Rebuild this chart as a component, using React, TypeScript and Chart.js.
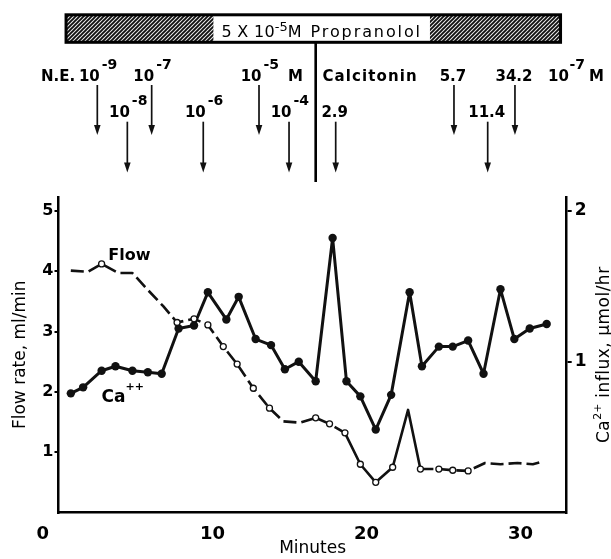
import React, { useEffect, useRef } from 'react';
import { Chart, registerables } from 'chart.js';

Chart.register(...registerables);

// ---------------- data ----------------
const flowMinutes = [0.8, 1.9, 2.8, 3.9, 4.8, 5.8, 6.8, 7.7, 8.8, 9.7, 10.7, 11.6, 12.65, 13.7, 14.6, 15.7, 16.7, 17.6, 18.6, 19.6, 20.6, 21.7, 22.7, 23.5, 24.7, 25.6, 26.6, 27.7, 28.7, 29.8, 30.8, 31.4];
const flowRates = [4.01, 3.99, 4.12, 3.97, 3.97, 3.69, 3.42, 3.15, 3.21, 3.11, 2.75, 2.46, 2.06, 1.73, 1.51, 1.49, 1.57, 1.47, 1.32, 0.8, 0.5, 0.75, 1.7, 0.72, 0.72, 0.7, 0.69, 0.82, 0.8, 0.82, 0.8, 0.84];

const caMinutes = [0.8, 1.6, 2.8, 3.7, 4.8, 5.8, 6.7, 7.8, 8.8, 9.7, 10.9, 11.7, 12.8, 13.8, 14.7, 15.6, 16.7, 17.8, 18.7, 19.6, 20.6, 21.6, 22.8, 23.6, 24.7, 25.6, 26.6, 27.6, 28.7, 29.6, 30.6, 31.7];
const caInflux = [0.79, 0.83, 0.94, 0.97, 0.94, 0.93, 0.92, 1.22, 1.24, 1.46, 1.28, 1.43, 1.15, 1.11, 0.95, 1.0, 0.87, 1.82, 0.87, 0.77, 0.55, 0.78, 1.46, 0.97, 1.1, 1.1, 1.14, 0.92, 1.48, 1.15, 1.22, 1.25];

const xTickValues = [0, 10, 20, 30];
const flowTickValues = [1, 2, 3, 4, 5];
const caTickValues = [1, 2];

const neExponents = ['-9', '-8', '-7', '-6', '-5', '-4'];
const neMinutes = [2.52, 4.47, 6.05, 9.4, 13.02, 14.97];
const neRows = [1, 2, 1, 2, 1, 2];

const calcitoninDoses = ['2.9', '5.7', '11.4', '34.2'];
const calcitoninMinutes = [18.0, 25.68, 27.87, 29.64];
const calcitoninRows = [2, 1, 2, 1];

const propranololStart = 0.49;
const propranololEnd = 32.6;
const calcitoninStart = 16.7;

// ---------------- helpers ----------------
const FAM = '"DejaVu Sans", "Liberation Sans", sans-serif';
const hiddenFlowMarkers = new Set([0, 1, 3, 4, 5, 6, 14, 15, 22, 27, 28, 29, 30, 31]);

type Run = { text: string; font: string; dy?: number; spacing?: number };

function runsWidth(ctx: CanvasRenderingContext2D, runs: Run[]) {
  let w = 0;
  for (const r of runs) {
    ctx.font = r.font;
    (ctx as any).letterSpacing = (r.spacing || 0) + 'px';
    w += ctx.measureText(r.text).width;
  }
  (ctx as any).letterSpacing = '0px';
  return w;
}

function drawRuns(ctx: CanvasRenderingContext2D, runs: Run[], x: number, y: number, align: 'left' | 'center' | 'right' = 'left') {
  const w = runsWidth(ctx, runs);
  let cx = align === 'left' ? x : align === 'center' ? x - w / 2 : x - w;
  ctx.textAlign = 'left';
  ctx.textBaseline = 'alphabetic';
  for (const r of runs) {
    ctx.font = r.font;
    (ctx as any).letterSpacing = (r.spacing || 0) + 'px';
    ctx.fillText(r.text, cx, y - (r.dy || 0));
    cx += ctx.measureText(r.text).width;
  }
  (ctx as any).letterSpacing = '0px';
  return w;
}

function arrow(ctx: CanvasRenderingContext2D, x: number, y0: number, y1: number) {
  ctx.beginPath();
  ctx.moveTo(x, y0);
  ctx.lineTo(x, y1 - 6);
  ctx.lineWidth = 1.7;
  ctx.strokeStyle = '#111';
  ctx.stroke();
  ctx.beginPath();
  ctx.moveTo(x - 3.3, y1 - 10);
  ctx.lineTo(x + 3.3, y1 - 10);
  ctx.lineTo(x, y1);
  ctx.closePath();
  ctx.fillStyle = '#111';
  ctx.fill();
}

function hatch(ctx: CanvasRenderingContext2D) {
  const c = document.createElement('canvas');
  c.width = 4;
  c.height = 4;
  const p = c.getContext('2d')!;
  p.fillStyle = '#eee';
  p.fillRect(0, 0, 4, 4);
  p.strokeStyle = '#111';
  p.lineWidth = 1.9;
  p.beginPath();
  p.moveTo(0, 4); p.lineTo(4, 0);
  p.moveTo(-1, 1); p.lineTo(1, -1);
  p.moveTo(3, 5); p.lineTo(5, 3);
  p.stroke();
  return ctx.createPattern(c, 'repeat')!;
}

const annotationPlugin = {
  id: 'figureAnnotations',
  afterDraw(chart: any) {
    const ctx: CanvasRenderingContext2D = chart.ctx;
    const xs = chart.scales.x;
    const yl = chart.scales.y;
    const yr = chart.scales.y1;
    const X = (m: number) => xs.getPixelForValue(m);
    ctx.save();

    // ---- propranolol bar ----
    const bx0 = X(propranololStart);
    const bx1 = X(propranololEnd);
    const by0 = 14.8;
    const by1 = 42.3;
    ctx.fillStyle = hatch(ctx);
    ctx.fillRect(bx0, by0, bx1 - bx0, by1 - by0);

    const propRuns: Run[] = [
      { text: '5 X 10', font: `16px ${FAM}`, spacing: 0.3 },
      { text: '-5', font: `13px ${FAM}`, dy: 6 },
      { text: 'M Propranolol', font: `16px ${FAM}`, spacing: 1.9 },
    ];
    const pw = runsWidth(ctx, propRuns);
    const pc = X(calcitoninStart) + 6;
    ctx.fillStyle = '#fff';
    ctx.fillRect(pc - pw / 2 - 8, by0 + 1, pw + 16, by1 - by0 - 2);
    ctx.fillStyle = '#000';
    drawRuns(ctx, propRuns, pc, 36.5, 'center');

    ctx.strokeStyle = '#000';
    ctx.lineWidth = 3;
    ctx.strokeRect(bx0, by0, bx1 - bx0, by1 - by0);

    // vertical divider
    ctx.beginPath();
    ctx.moveTo(X(calcitoninStart), by1);
    ctx.lineTo(X(calcitoninStart), 182);
    ctx.lineWidth = 2.6;
    ctx.stroke();

    // ---- arrows & labels ----
    const rowBase = { 1: 81, 2: 116.7 } as Record<number, number>;
    const rowArrow = { 1: [85, 135], 2: [121.7, 172.5] } as Record<number, number[]>;
    const bold = (s: number) => `bold ${s}px ${FAM}`;
    ctx.fillStyle = '#000';

    drawRuns(ctx, [{ text: 'N.E.', font: bold(15) }], 41, 81);

    neMinutes.forEach((m, i) => {
      const ax = X(m);
      const row = neRows[i];
      const [a0, a1] = rowArrow[row];
      arrow(ctx, ax, a0, a1);
      ctx.fillStyle = '#000';
      drawRuns(ctx, [{ text: '10', font: bold(15) }], ax + 2.5, rowBase[row], 'right');
      drawRuns(ctx, [{ text: neExponents[i], font: bold(14) }], ax + 4.5, rowBase[row] - 12, 'left');
    });
    drawRuns(ctx, [{ text: 'M', font: bold(15) }], 288, 81);
    drawRuns(ctx, [{ text: 'Calcitonin', font: bold(15), spacing: 1.1 }], 322.5, 81);

    calcitoninMinutes.forEach((m, i) => {
      const ax = X(m);
      const row = calcitoninRows[i];
      const [a0, a1] = rowArrow[row];
      arrow(ctx, ax, a0, a1);
      ctx.fillStyle = '#000';
      drawRuns(ctx, [{ text: calcitoninDoses[i], font: bold(15) }], ax - 1, rowBase[row], 'center');
    });
    drawRuns(ctx, [{ text: '10', font: bold(15) }], 548, 81);
    drawRuns(ctx, [{ text: '-7', font: bold(14) }], 569.5, 81 - 12);
    drawRuns(ctx, [{ text: 'M', font: bold(15) }], 589, 81);

    // ---- series labels ----
    drawRuns(ctx, [{ text: 'Flow', font: bold(16) }], X(3.23), yl.getPixelForValue(4.19));
    drawRuns(
      ctx,
      [
        { text: 'Ca', font: bold(17) },
        { text: '++', font: bold(11), dy: 12 },
      ],
      X(2.8),
      yr.getPixelForValue(0.735)
    );

    // ---- right axis title (reads upward) ----
    ctx.translate(609, (yr.top + yr.bottom) / 2);
    ctx.rotate(-Math.PI / 2);
    ctx.fillStyle = '#000';
    drawRuns(
      ctx,
      [
        { text: 'Ca', font: `17px ${FAM}`, spacing: 0.5 },
        { text: '2+', font: `11px ${FAM}`, dy: 8 },
        { text: ' influx, μmol/hr', font: `17px ${FAM}`, spacing: 0.5 },
      ],
      0,
      0,
      'center'
    );
    ctx.restore();
  },
};

export default function App() {
  const ref = useRef<HTMLCanvasElement | null>(null);

  useEffect(() => {
    if (!ref.current) return;
    const tickFont = (s: number) => ({ family: FAM, size: s, weight: 'bold' as const });
    const chart = new Chart(ref.current, {
      type: 'line',
      data: {
        datasets: [
          {
            label: 'Flow',
            yAxisID: 'y',
            data: flowMinutes.map((m, i) => ({ x: m, y: flowRates[i] })),
            borderColor: '#111',
            borderWidth: 2.6,
            borderDash: [13, 5],
            borderJoinStyle: 'round',
            pointRadius: (c: any) => (hiddenFlowMarkers.has(c.dataIndex) ? 0 : 3),
            pointBackgroundColor: '#fff',
            pointBorderColor: '#111',
            pointBorderWidth: 1.3,
            tension: 0,
            segment: {
              borderDash: (c: any) => (c.p0DataIndex >= 18 && c.p0DataIndex <= 22 ? [] : undefined),
            },
          } as any,
          {
            label: 'Ca++',
            yAxisID: 'y1',
            data: caMinutes.map((m, i) => ({ x: m, y: caInflux[i] })),
            borderColor: '#111',
            borderWidth: 3,
            borderJoinStyle: 'round',
            pointRadius: 4.2,
            pointBackgroundColor: '#111',
            pointBorderWidth: 0,
            tension: 0,
          } as any,
        ],
      },
      options: {
        animation: false,
        responsive: false,
        devicePixelRatio: 1,
        layout: { padding: { top: 197, left: 0, right: 0, bottom: 0 } },
        plugins: { legend: { display: false }, tooltip: { enabled: false } },
        scales: {
          x: {
            type: 'linear',
            min: 0,
            max: 33,
            afterBuildTicks: (s: any) => {
              s.ticks = xTickValues.map((v) => ({ value: v }));
            },
            afterFit: (s: any) => {
              s.height = 46.5;
            },
            grid: { display: true, drawOnChartArea: false, drawTicks: false },
            border: { display: true, color: '#000', width: 2.5 },
            ticks: {
              font: tickFont(18),
              color: '#000',
              padding: 11,
              maxRotation: 0,
              autoSkip: false,
              callback: (v: any) => (Number(v) === 0 ? '0     ' : String(v)),
            },
            title: {
              display: true,
              text: 'Minutes',
              color: '#000',
              font: { family: FAM, size: 17 },
              padding: { top: 0, bottom: 0 },
            },
          },
          y: {
            type: 'linear',
            position: 'left',
            min: 0,
            max: 5.23,
            afterBuildTicks: (s: any) => {
              s.ticks = flowTickValues.map((v) => ({ value: v }));
            },
            afterFit: (s: any) => {
              s.width = 58.5;
            },
            grid: { display: true, drawOnChartArea: false, drawTicks: true, tickLength: 4, lineWidth: 2, color: '#000' },
            border: { display: true, color: '#000', width: 2.5 },
            ticks: { font: tickFont(16), color: '#000', padding: 1 },
            title: {
              display: true,
              text: 'Flow rate, ml/min',
              color: '#000',
              font: { family: FAM, size: 17 },
              padding: { top: 10, bottom: 0 },
            },
          },
          y1: {
            type: 'linear',
            position: 'right',
            min: 0,
            max: 2.092,
            afterBuildTicks: (s: any) => {
              s.ticks = caTickValues.map((v) => ({ value: v }));
            },
            afterFit: (s: any) => {
              s.width = 44.3;
            },
            grid: { display: true, drawOnChartArea: false, drawTicks: true, tickLength: 5, lineWidth: 2, color: '#000' },
            border: { display: true, color: '#000', width: 2.5 },
            ticks: { font: tickFont(17), color: '#000', padding: 3 },
          },
        },
      } as any,
      plugins: [annotationPlugin],
    });
    return () => chart.destroy();
  }, []);

  return (
    <div style={{ position: 'absolute', left: 0, top: 0, width: 611, height: 559, background: '#fff' }}>
      <canvas ref={ref} width={611} height={559} style={{ display: 'block', width: 611, height: 559 }} />
    </div>
  );
}
